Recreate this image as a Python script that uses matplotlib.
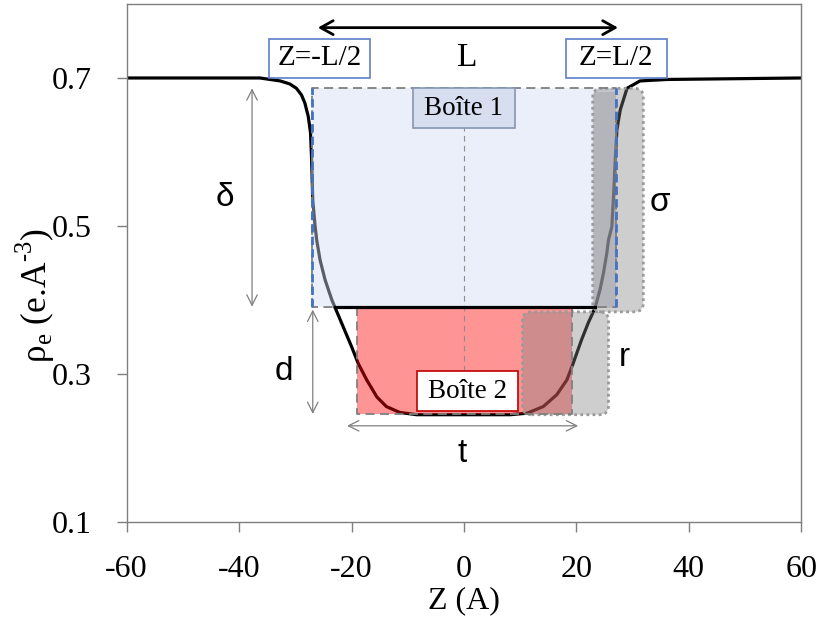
import matplotlib.pyplot as plt
from matplotlib.patches import Rectangle, FancyBboxPatch, FancyArrowPatch

plt.rcParams['font.family'] = ['Liberation Serif', 'DejaVu Serif']
plt.rcParams['axes.unicode_minus'] = False
plt.rcParams['mathtext.fontset'] = 'custom'
plt.rcParams['mathtext.rm'] = 'Liberation Serif'

# electron density profile (Z in A, rho in e.A-3)
z_profile = [-60, -36.3, -32.7, -31.0, -29.8, -28.9, -28.3, -27.7, -27.3, -27.1,
             -27.0, -26.9, -26.5, -26.2, -25.6, -24.7, -23.5, -23.0, -21.5, -20.0,
             -18.8, -17.3, -15.5, -13.8, -11.4, -8.4, 0, 8.2, 11.2, 14.1,
             16.5, 18.3, 19.4, 20.9, 22.1, 23.3, 24.2, 24.8, 25.4, 25.7,
             26.3, 26.6, 26.9, 27.2, 27.8, 29.0, 31.3, 36.1, 60]
rho_profile = [0.700, 0.700, 0.696, 0.692, 0.686, 0.677, 0.666, 0.648, 0.626, 0.589,
               0.562, 0.535, 0.501, 0.481, 0.454, 0.427, 0.400, 0.391, 0.364, 0.337,
               0.314, 0.292, 0.269, 0.256, 0.248, 0.245, 0.245, 0.245, 0.247, 0.256,
               0.272, 0.292, 0.314, 0.346, 0.369, 0.389, 0.414, 0.436, 0.463, 0.481,
               0.499, 0.540, 0.589, 0.630, 0.657, 0.686, 0.696, 0.698, 0.700]

# two-box model
box1_z = (-27.0, 27.0)        # Z = -L/2 .. L/2
box1_rho = (0.391, 0.686)
box2_z = (-19.0, 19.3)
box2_rho = (0.246, 0.391)
step_z = (-23.0, 23.3)        # where the profile crosses the box 1 floor
sigma_z = (22.9, 31.9)        # interface roughness zones
sigma_rho = (0.384, 0.686)
r_z = (10.4, 25.7)
r_rho = (0.245, 0.384)

fig = plt.figure(figsize=(8.21, 6.21), dpi=100)
ax = fig.add_axes([0.1543, 0.1594, 0.8217, 0.8342])

ax.plot(z_profile, rho_profile, color='black', lw=2.3, zorder=2, solid_capstyle='round')

# box fills (semi transparent, over the curve)
ax.add_patch(Rectangle((box1_z[0], box1_rho[0]), box1_z[1] - box1_z[0], box1_rho[1] - box1_rho[0],
                       facecolor='#D1DBF2', alpha=0.43, edgecolor='none', zorder=3))
ax.add_patch(Rectangle((box2_z[0], box2_rho[0]), box2_z[1] - box2_z[0], box2_rho[1] - box2_rho[0],
                       facecolor='#FF0000', alpha=0.42, edgecolor='none', zorder=3))

asp = 0.0075
for zz, rr in [(sigma_z, sigma_rho), (r_z, r_rho)]:
    ax.add_patch(FancyBboxPatch((zz[0], rr[0]), zz[1] - zz[0], rr[1] - rr[0],
                                boxstyle='round,pad=0,rounding_size=1.6', mutation_aspect=asp,
                                facecolor='#808080', alpha=0.38, edgecolor='none', zorder=3))
    ax.add_patch(FancyBboxPatch((zz[0], rr[0]), zz[1] - zz[0], rr[1] - rr[0],
                                boxstyle='round,pad=0,rounding_size=1.6', mutation_aspect=asp,
                                facecolor='none', edgecolor='#9a9a9a', lw=2, ls=(0, (1, 1.2)), zorder=4))
# darker strip of the sigma zone inside box 1
ax.add_patch(Rectangle((sigma_z[0] + 0.3, sigma_rho[0] + 0.005), box1_z[1] - sigma_z[0] - 0.3,
                       sigma_rho[1] - sigma_rho[0] - 0.01,
                       facecolor='#808080', alpha=0.22, edgecolor='none', zorder=3))

# dashed box outlines
dash = dict(color='#7f7f7f', lw=1.3, ls=(0, (5, 3)), zorder=4)
ax.plot([box1_z[0], box1_z[0], box1_z[1], box1_z[1], box1_z[0]],
        [box1_rho[0], box1_rho[1], box1_rho[1], box1_rho[0], box1_rho[0]], **dash)
ax.plot([box2_z[0], box2_z[0], box2_z[1], box2_z[1]],
        [box2_rho[1], box2_rho[0], box2_rho[0], box2_rho[1]], **dash)
ax.plot([step_z[0], step_z[1]], [box1_rho[0], box1_rho[0]], color='black', lw=2.3, zorder=5)

# interface positions
for zb in box1_z:
    ax.plot([zb, zb], [box1_rho[0], box1_rho[1]], color='#4472C4', lw=2, ls=(0, (3, 1.5)), zorder=5)

# centre line
ax.plot([0, 0], [0.304, 0.632], color='#8c8c8c', lw=0.8, ls=(0, (5, 4)), zorder=4)

def arrow(p0, p1, color, lw, hl, hw, ms):
    ax.add_patch(FancyArrowPatch(p0, p1, arrowstyle=f'<->,head_length={hl},head_width={hw}',
                                 mutation_scale=ms, color=color, lw=lw, shrinkA=0, shrinkB=0, zorder=6))

arrow((-26.0, 0.768), (27.4, 0.768), 'black', 2, 0.45, 0.25, 20)
arrow((-37.7, box1_rho[1]), (-37.7, box1_rho[0]), '#7f7f7f', 0.9, 0.5, 0.25, 15)
arrow((-26.9, 0.387), (-26.9, box2_rho[0]), '#7f7f7f', 0.9, 0.5, 0.25, 15)
arrow((-20.8, 0.230), (20.3, 0.230), '#7f7f7f', 0.9, 0.5, 0.25, 15)

# labelled boxes
def label_box(x0, x1, y0, y1, text, fc, ec, fs):
    ax.add_patch(Rectangle((x0, y0), x1 - x0, y1 - y0, facecolor=fc, edgecolor=ec, lw=1.2, zorder=7))
    ax.text((x0 + x1) / 2, (y0 + y1) / 2, text, ha='center', va='center', fontsize=fs, zorder=8)

label_box(-34.7, -16.7, 0.700, 0.753, 'Z=-L/2', 'white', '#5B7FC8', 21)
label_box(18.1, 36.1, 0.700, 0.753, 'Z=L/2', 'white', '#5B7FC8', 21)
label_box(-9.1, 9.1, 0.632, 0.686, 'Boîte 1', '#D6DEEF', '#8497B0', 19.5)
label_box(-8.4, 9.6, 0.250, 0.304, 'Boîte 2', 'white', '#C00000', 19.5)

ax.text(0.5, 0.727, 'L', ha='center', va='center', fontsize=24)
sans = dict(family='Liberation Sans', fontsize=24, ha='center', va='center')
ax.text(-42.5, 0.538, 'δ', **sans)
ax.text(-32.0, 0.303, 'd', **sans)
ax.text(-0.4, 0.193, 't', **sans)
ax.text(28.6, 0.322, 'r', **sans)
ax.text(34.9, 0.532, 'σ', **sans)

ax.set_xlim(-60, 60)
ax.set_ylim(0.1, 0.8)
ax.set_xticks([-60, -40, -20, 0, 20, 40, 60])
ax.set_yticks([0.1, 0.3, 0.5, 0.7])
for s in ax.spines.values():
    s.set_color('#7f7f7f')
    s.set_linewidth(1)
ax.tick_params(axis='both', colors='#7f7f7f', length=7, width=1, labelsize=23, labelcolor='black')
ax.tick_params(axis='x', pad=17)
ax.tick_params(axis='y', pad=18)

fig.text(464 / 821, 1 - 601 / 621, 'Z (A)', ha='center', va='center', fontsize=23)
fig.text(35 / 821, 1 - 296 / 621, 'ρ$_\\mathregular{e}$ (e.A$^{\\text{-3}}$)',
         ha='center', va='center', rotation=90, fontsize=25.5)

fig.savefig('out.png', dpi=100)
